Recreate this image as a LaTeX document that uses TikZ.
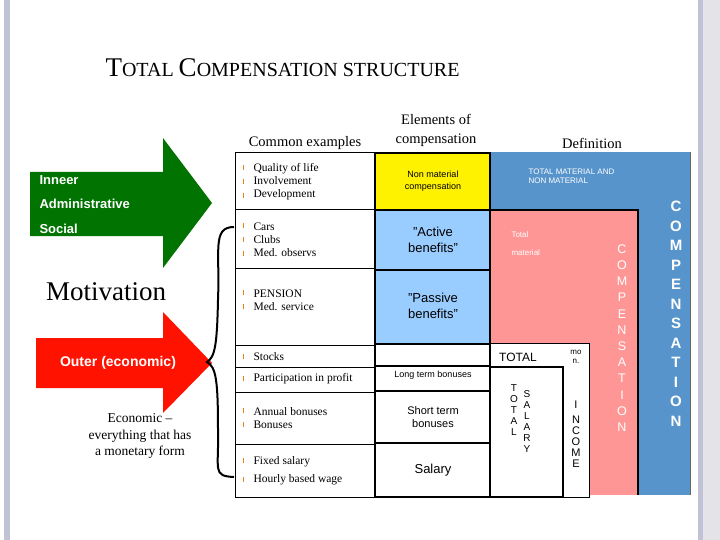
\documentclass[tikz,border=0pt]{standalone}
\usepackage{fontspec}
\setmainfont{Liberation Serif}
\setsansfont{Liberation Sans}
\definecolor{bigblue}{RGB}{88,148,204}
\definecolor{cellblue}{RGB}{153,204,255}
\definecolor{pinkc}{RGB}{255,150,150}
\begin{document}
\begin{tikzpicture}[x=1pt,y=-1pt,
  cell/.style={draw,line width=1.2pt},
  ss/.style={font=\sffamily},
  ex/.style={anchor=west,font=\fontsize{11.5}{13}\selectfont,align=left},
  vert/.style={font=\sffamily\fontsize{13}{14}\selectfont,align=center,text=white}]
\useasboundingbox (0,0) rectangle (720,540);
\fill[white] (0,0) rectangle (720,540);
\fill[blue!20!gray!40] (4,0) rectangle (10,540);
\fill[blue!20!gray!40] (698,0) rectangle (703,540);
\fill[blue!10!gray!20] (703,0) rectangle (720,540);
\node[anchor=west,font=\fontsize{27}{30}\selectfont] (title) at (102,68) {T\fontsize{20}{24}\selectfont OTAL \fontsize{27}{30}\selectfont C\fontsize{20}{24}\selectfont OMPENSATION STRUCTURE};
\node[font=\fontsize{14.5}{16}\selectfont] (h1) at (305,143) {Common examples};
\node[font=\fontsize{14.5}{19}\selectfont,align=center] (h2) at (436,130) {Elements of\\compensation};
\node[font=\fontsize{14.5}{16}\selectfont] (h3) at (592,143) {Definition};
% arrows
\fill[green!45!black] (30,172) -- (163,172) -- (163,138) -- (212,203) -- (163,268) -- (163,236) -- (30,236) -- cycle;
\node[ss,anchor=west,text=white,font=\sffamily\bfseries\fontsize{13}{14}\selectfont] (a1) at (36,180) {Inneer};
\node[ss,anchor=west,text=white,font=\sffamily\bfseries\fontsize{13}{14}\selectfont] (a2) at (36,204) {Administrative};
\node[ss,anchor=west,text=white,font=\sffamily\bfseries\fontsize{13}{14}\selectfont] (a3) at (36,229) {Social};
\fill[red!85!orange] (36,338) -- (163,338) -- (163,312) -- (212,363) -- (163,413) -- (163,388) -- (36,388) -- cycle;
\node[text=white,font=\sffamily\bfseries\fontsize{14}{16}\selectfont] (a4) at (118,363) {Outer (economic)};
\node[font=\fontsize{27}{30}\selectfont] (mot) at (106,292) {Motivation};
\node[font=\fontsize{13.5}{16.5}\selectfont,align=center] (eco) at (140,436) {Economic --\\everything that has\\a monetary form};
\draw[line width=2pt] (234,227) .. controls (212,227) and (220,250) .. (218,300) .. controls (217,345) and (215,357) .. (207,362) .. controls (216,367) and (218,380) .. (218,430) .. controls (219,470) and (212,476) .. (234,477);
% blue and pink
\fill[bigblue] (490,152) rectangle (690,495);
\draw[black!60] (690,152) -- (690,495);
\fill[pinkc] (490,210) rectangle (638,495);
\draw[line width=1.5pt] (490,210) -- (638,210) -- (638,495);
\node[ss,text=white,font=\sffamily\fontsize{8}{9}\selectfont,align=left,anchor=west] (d1) at (525,176) {TOTAL MATERIAL AND\\NON MATERIAL};
\node[ss,text=white,font=\sffamily\fontsize{8}{9}\selectfont,anchor=west] (d2) at (508,235) {Total};
\node[ss,text=white,font=\sffamily\fontsize{8}{9}\selectfont,anchor=west] (d3) at (508,253) {material};
\node[vert,font=\sffamily\bfseries\fontsize{15}{19.5}\selectfont] (c1) at (676,314) {C\\O\\M\\P\\E\\N\\S\\A\\T\\I\\O\\N};
\node[vert,font=\sffamily\fontsize{12.5}{16.2}\selectfont] (c2) at (622,338) {C\\O\\M\\P\\E\\N\\S\\A\\T\\I\\O\\N};
% total box
\draw[fill=white] (490,343) rectangle (589,497);
\draw[fill=white,line width=1.2pt] (490,367) rectangle (563,497);
\node[ss,font=\sffamily\fontsize{12}{14}\selectfont] (t1) at (518,357) {TOTAL};
\node[ss,font=\sffamily\fontsize{8}{9}\selectfont,align=center] (t2) at (576,357) {mo\\n.};
\node[ss,font=\sffamily\fontsize{10}{11}\selectfont,align=center] (t3) at (514,410) {T\\O\\T\\A\\L};
\node[ss,font=\sffamily\fontsize{10}{11}\selectfont,align=center] (t4) at (527,422) {S\\A\\L\\A\\R\\Y};
\node[ss,font=\sffamily\fontsize{11}{11}\selectfont,align=center] (t5) at (576,434) {I\\[4pt]N\\C\\O\\M\\E};
% elements column
\draw[cell,fill=yellow] (375,153) rectangle (490,210);
\draw[cell,fill=cellblue] (375,210) rectangle (490,270);
\draw[cell,fill=cellblue] (375,270) rectangle (490,344);
\draw[cell] (375,344) rectangle (490,366);
\draw[cell] (375,366) rectangle (490,391);
\draw[cell] (375,391) rectangle (490,443);
\draw[cell] (375,443) rectangle (490,497);
\node[ss,font=\sffamily\fontsize{9}{12}\selectfont,align=center] (e1) at (433,181) {Non material\\compensation};
\node[ss,font=\sffamily\fontsize{13}{16}\selectfont,align=center] (e2) at (433,240) {"Active\\benefits"};
\node[ss,font=\sffamily\fontsize{13}{16}\selectfont,align=center] (e3) at (433,306) {"Passive\\benefits"};
\node[ss,font=\sffamily\fontsize{9}{10}\selectfont] (e4) at (433,375) {Long term bonuses};
\node[ss,font=\sffamily\fontsize{11}{13}\selectfont,align=center] (e5) at (433,417) {Short term\\bonuses};
\node[ss,font=\sffamily\fontsize{13}{15}\selectfont] (e6) at (433,470) {Salary};
% examples column
\foreach \a/\b in {153/210,210/268,268/345,345/367,367/392,392/444,444/497}
  \draw[line width=1pt] (235,\a) rectangle (375,\b);
\node[ex] (x1) at (250,182) {Quality of  life\\Involvement\\Development};
\node[ex] (x2) at (250,240) {Cars\\Clubs\\Med. observs};
\node[ex] (x3) at (250,300) {PENSION\\Med. service};
\node[ex] (x4) at (250,357) {Stocks};
\node[ex] (x5) at (250,379) {Participation in profit};
\node[ex] (x6) at (250,418) {Annual bonuses\\Bonuses};
\node[ex] (x7) at (250,471) {Fixed salary\\[5pt]Hourly based wage};
\foreach \y in {168,182,196,226,240,254,293,307,357,379,411,425,461,480}
  \draw[orange!70!brown,line width=0.5pt] (243,\y-3) -- (243,\y+2);
\end{tikzpicture}
\end{document}
